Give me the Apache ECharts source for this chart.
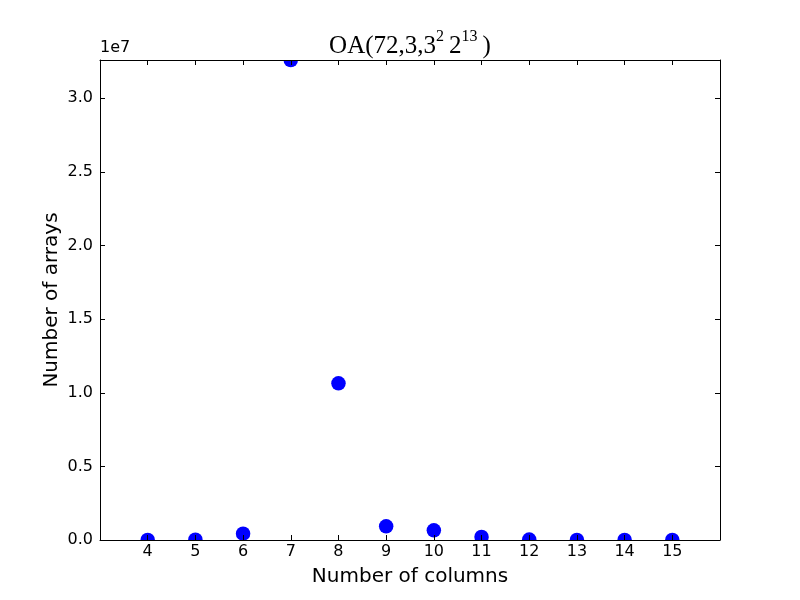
<!DOCTYPE html>
<html>
<head>
<meta charset="utf-8">
<script src="https://cdn.jsdelivr.net/npm/echarts@6/dist/echarts.min.js"></script>
<style>html,body{margin:0;padding:0;background:#fff;}#c{width:800px;height:600px;}</style>
</head>
<body>
<div id="c"></div>
<script>
var columns = [4, 5, 6, 7, 8, 9, 10, 11, 12, 13, 14, 15];
var arrays = [2000, 20000, 430000, 32600000, 10640000, 930000, 660000, 210000, 30000, 5000, 600, 60];
var yTickStep = 5000000;
var yMax = 32600000;

var chart = echarts.init(document.getElementById('c'), null, {renderer: 'canvas'});
var font = 'DejaVu Sans';
var axisCommon = {
  z: 20,
  axisLine: {show: true, onZero: false, lineStyle: {color: '#000', width: 1}},
  axisTick: {show: true, inside: true, length: 5, lineStyle: {color: '#000'}},
  splitLine: {show: false}
};
chart.setOption({
  animation: false,
  backgroundColor: '#fff',
  grid: {left: 100, right: 80, top: 60, bottom: 60, containLabel: false},
  xAxis: [
    Object.assign({
      type: 'value', min: 3, max: 16, interval: 1, position: 'bottom',
      name: 'Number of columns', nameLocation: 'middle', nameGap: 27, nameMoveOverlap: false,
      nameTextStyle: {fontFamily: font, fontSize: 20, color: '#000'},
      axisLabel: {fontFamily: font, fontSize: 16, color: '#000', margin: 4, showMinLabel: false, showMaxLabel: false}
    }, axisCommon),
    Object.assign({
      type: 'value', min: 3, max: 16, interval: 1, position: 'top',
      axisLabel: {show: false}
    }, axisCommon)
  ],
  yAxis: [
    Object.assign({
      type: 'value', min: 0, max: yMax, interval: yTickStep, position: 'left',
      name: 'Number of arrays', nameLocation: 'middle', nameGap: 38, nameMoveOverlap: false,
      nameTextStyle: {fontFamily: font, fontSize: 20, color: '#000'},
      axisLabel: {fontFamily: font, fontSize: 16, color: '#000', margin: 7, showMaxLabel: false,
        formatter: function (v) { return (v / 1e7).toFixed(1); }}
    }, axisCommon),
    Object.assign({
      type: 'value', min: 0, max: yMax, interval: yTickStep, position: 'right',
      axisLabel: {show: false}
    }, axisCommon)
  ],
  series: [{
    type: 'scatter',
    xAxisIndex: 0, yAxisIndex: 0,
    symbol: 'circle', symbolSize: 14.5,
    itemStyle: {color: '#0000ff', opacity: 1},
    z: 2,
    data: columns.map(function (c, i) { return [c, arrays[i]]; })
  }],
  graphic: [
    {type: 'rect', z: 10, shape: {x: 90, y: 45, width: 640, height: 15}, style: {fill: '#fff'}},
    {type: 'rect', z: 10, shape: {x: 90, y: 540, width: 640, height: 8}, style: {fill: '#fff'}},
    {type: 'text', z: 12, left: 100, top: 40, style: {text: '1e7', font: '16px "DejaVu Sans"', fill: '#000'}},
    {type: 'text', z: 12, x: 410, y: 29, style: {
      text: '{b|OA(72,3,3}{s|2}{b|\u20092}{s|13}{b|\u2009)}',
      align: 'center', textAlign: 'center', verticalAlign: 'top',
      rich: {
        b: {fontFamily: 'Liberation Serif', fontSize: 25, fill: '#000', color: '#000', verticalAlign: 'bottom', lineHeight: 30},
        s: {fontFamily: 'Liberation Serif', fontSize: 16, fill: '#000', color: '#000', verticalAlign: 'top', lineHeight: 30, padding: [0, 0, 12, 0]}
      }
    }}
  ]
});
</script>
</body>
</html>
